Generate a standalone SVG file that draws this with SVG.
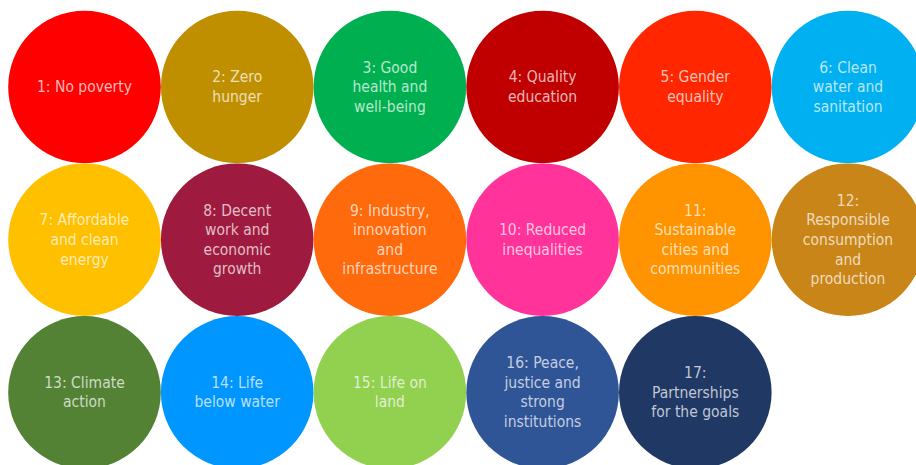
<svg xmlns="http://www.w3.org/2000/svg" width="916" height="465" viewBox="0 0 916 465">
<style>
text{font-family:"DejaVu Sans Condensed","DejaVu Sans",sans-serif;font-stretch:condensed;font-weight:normal;font-size:15.5px;fill:#ffffff;fill-opacity:0.72;text-anchor:middle}
</style>
<rect width="916" height="465" fill="#ffffff"/>
<g id="g1"><circle cx="84.5" cy="87" r="76.3" fill="#ff0000"/><text x="84.5" y="92.2">1: No poverty</text></g>
<g id="g2"><circle cx="237.2" cy="87" r="76.3" fill="#bf8f00"/><text x="237.2" y="82.4">2: Zero</text><text x="237.2" y="102">hunger</text></g>
<g id="g3"><circle cx="389.9" cy="87" r="76.3" fill="#00b050"/><text x="389.9" y="72.6">3: Good</text><text x="389.9" y="92.2">health and</text><text x="389.9" y="111.8">well-being</text></g>
<g id="g4"><circle cx="542.6" cy="87" r="76.3" fill="#c00000"/><text x="542.6" y="82.4">4: Quality</text><text x="542.6" y="102">education</text></g>
<g id="g5"><circle cx="695.3" cy="87" r="76.3" fill="#ff2600"/><text x="695.3" y="82.4">5: Gender</text><text x="695.3" y="102">equality</text></g>
<g id="g6"><circle cx="848" cy="87" r="76.3" fill="#00b0f0"/><text x="848" y="72.6">6: Clean</text><text x="848" y="92.2">water and</text><text x="848" y="111.8">sanitation</text></g>
<g id="g7"><circle cx="84.5" cy="239.7" r="76.3" fill="#ffc000"/><text x="84.5" y="225.3">7: Affordable</text><text x="84.5" y="244.9">and clean</text><text x="84.5" y="264.5">energy</text></g>
<g id="g8"><circle cx="237.2" cy="239.7" r="76.3" fill="#9e1a3f"/><text x="237.2" y="215.5">8: Decent</text><text x="237.2" y="235.1">work and</text><text x="237.2" y="254.7">economic</text><text x="237.2" y="274.3">growth</text></g>
<g id="g9"><circle cx="389.9" cy="239.7" r="76.3" fill="#ff6a0d"/><text x="389.9" y="215.5">9: Industry,</text><text x="389.9" y="235.1">innovation</text><text x="389.9" y="254.7">and</text><text x="389.9" y="274.3">infrastructure</text></g>
<g id="g10"><circle cx="542.6" cy="239.7" r="76.3" fill="#ff3399"/><text x="542.6" y="235.1">10: Reduced</text><text x="542.6" y="254.7">inequalities</text></g>
<g id="g11"><circle cx="695.3" cy="239.7" r="76.3" fill="#ff9300"/><text x="695.3" y="215.5">11:</text><text x="695.3" y="235.1">Sustainable</text><text x="695.3" y="254.7">cities and</text><text x="695.3" y="274.3">communities</text></g>
<g id="g12"><circle cx="848" cy="239.7" r="76.3" fill="#c98518"/><text x="848" y="205.7">12:</text><text x="848" y="225.3">Responsible</text><text x="848" y="244.9">consumption</text><text x="848" y="264.5">and</text><text x="848" y="284.1">production</text></g>
<g id="g13"><circle cx="84.5" cy="392.4" r="76.3" fill="#548235"/><text x="84.5" y="387.8">13: Climate</text><text x="84.5" y="407.4">action</text></g>
<g id="g14"><circle cx="237.2" cy="392.4" r="76.3" fill="#0096ff"/><text x="237.2" y="387.8">14: Life</text><text x="237.2" y="407.4">below water</text></g>
<g id="g15"><circle cx="389.9" cy="392.4" r="76.3" fill="#92d050"/><text x="389.9" y="387.8">15: Life on</text><text x="389.9" y="407.4">land</text></g>
<g id="g16"><circle cx="542.6" cy="392.4" r="76.3" fill="#2f5597"/><text x="542.6" y="368.2">16: Peace,</text><text x="542.6" y="387.8">justice and</text><text x="542.6" y="407.4">strong</text><text x="542.6" y="427">institutions</text></g>
<g id="g17"><circle cx="695.3" cy="392.4" r="76.3" fill="#1f3864"/><text x="695.3" y="378">17:</text><text x="695.3" y="397.6">Partnerships</text><text x="695.3" y="417.2">for the goals</text></g>
<g id="connectors"/>
</svg>
